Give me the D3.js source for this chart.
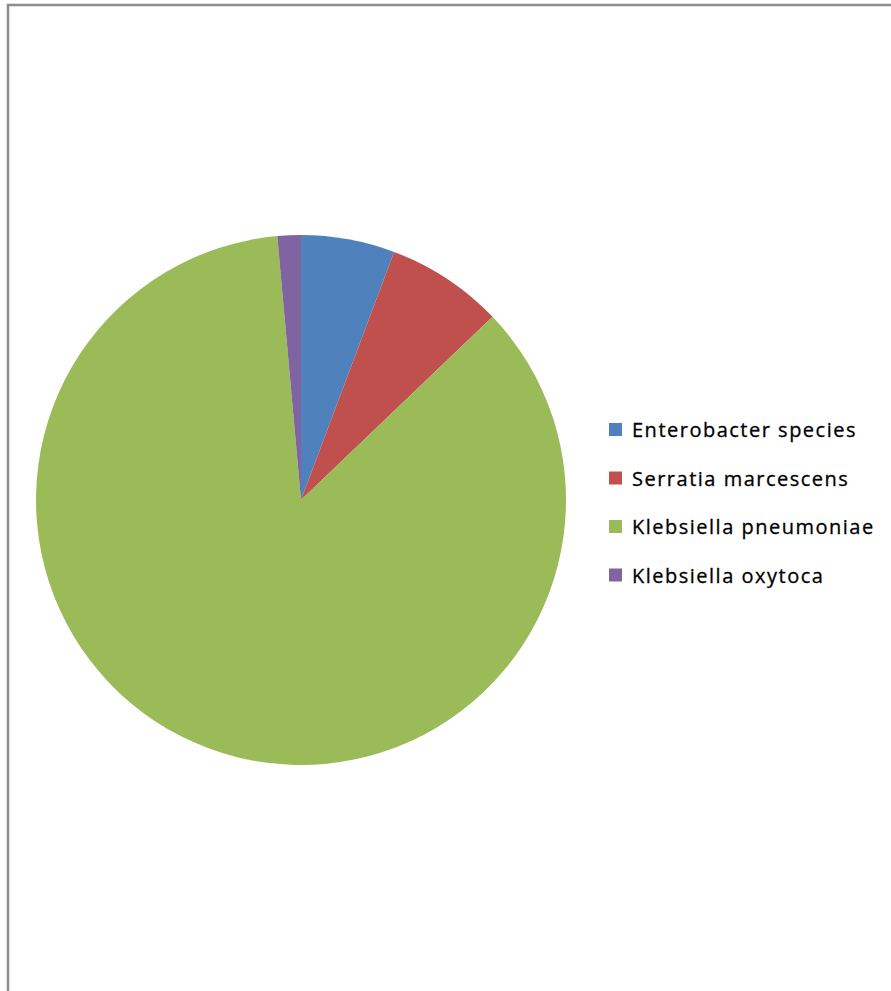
<!DOCTYPE html>
<html><head><meta charset="utf-8">
<script src="https://cdn.jsdelivr.net/npm/d3@7"></script>
<style>html,body{margin:0;padding:0;background:#fff;}</style>
</head><body>
<svg id="chart" width="891" height="991"></svg>
<script>
const categories = ["Enterobacter species", "Serratia marcescens", "Klebsiella pneumoniae", "Klebsiella oxytoca"];
const values = [4, 5, 60, 1];
const colors = ["#4F81BD", "#C0504D", "#9BBB59", "#8064A2"];

const svg = d3.select("#chart");
svg.append("rect").attr("width", 891).attr("height", 991).attr("fill", "#fff");
// chart area border (top and left visible)
svg.append("path").attr("d", "M8,991 V5 H891").attr("fill", "none").attr("stroke", "#8c8c8c").attr("stroke-width", 2.5);

const cx = 301, cy = 500, r = 265;
const pie = d3.pie().sort(null).value(d => d)(values);
const arc = d3.arc().innerRadius(0).outerRadius(r);
const g = svg.append("g").attr("transform", `translate(${cx},${cy})`);
g.selectAll("path").data(pie).join("path").attr("d", arc).attr("fill", (d, i) => colors[i]);

const color = d3.scaleOrdinal().domain(categories).range(colors);
const lg = svg.append("g").attr("transform", "translate(609,423)");
const rowH = 48.5;
categories.forEach((c, i) => {
  const row = lg.append("g").attr("transform", `translate(0,${i * rowH})`);
  row.append("rect").attr("width", 13).attr("height", 13).attr("fill", color(c));
  row.append("text").attr("x", 23).attr("y", 14).attr("font-family", "'Open Sans', sans-serif")
    .attr("font-size", 20).attr("letter-spacing", 1.5).attr("stroke", "#000").attr("stroke-width", 0.3)
    .attr("fill", "#000").text(c);
});
</script>
</body></html>
